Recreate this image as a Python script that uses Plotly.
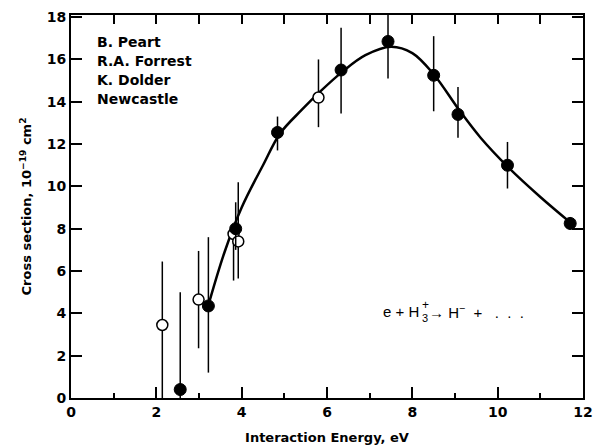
import plotly.graph_objects as go

# Filled circles (data set 1)
fx = [2.56, 3.22, 3.86, 4.84, 6.33, 7.43, 8.50, 9.07, 10.23, 11.70]
fy = [0.40, 4.35, 8.00, 12.55, 15.50, 16.85, 15.25, 13.40, 11.00, 8.25]
f_up = [4.60, 3.25, 1.25, 0.75, 2.00, 1.25, 1.85, 1.30, 1.10, 0.30]
f_dn = [0.40, 3.15, 1.00, 0.85, 2.05, 1.75, 1.70, 1.10, 1.10, 0.30]

# Open circles (data set 2)
ox = [2.14, 2.99, 3.81, 3.92, 5.80]
oy = [3.45, 4.65, 7.75, 7.40, 14.20]
o_up = [3.00, 2.30, 0.20, 2.80, 1.80]
o_dn = [3.45, 2.30, 2.20, 1.75, 1.40]

# Smooth fitted curve
cx = [3.25, 3.60, 4.00, 4.50, 4.90, 5.40, 5.85, 6.35, 6.90, 7.50, 8.00, 8.50, 9.10, 9.60, 10.25, 11.00, 11.70]
cy = [4.60, 6.90, 9.00, 11.00, 12.50, 13.60, 14.50, 15.40, 16.20, 16.60, 16.30, 15.30, 13.60, 12.30, 10.90, 9.50, 8.30]

xticks = [0, 2, 4, 6, 8, 10, 12]
yticks = [0, 2, 4, 6, 8, 10, 12, 14, 16, 18]

authors = ["B. Peart", "R.A. Forrest", "K. Dolder", "Newcastle"]

FONT = "DejaVu Sans"
RFONT = "Liberation Sans"
NB = "\u00a0"

fig = go.Figure()
fig.add_trace(go.Scatter(x=cx, y=cy, mode="lines", line=dict(color="black", width=2.5, shape="spline", smoothing=1.0),
                         hoverinfo="skip", showlegend=False))
fig.add_trace(go.Scatter(
    x=ox, y=oy, mode="markers",
    marker=dict(symbol="circle", size=11, color="white", line=dict(color="black", width=1.5)),
    error_y=dict(type="data", symmetric=False, array=o_up, arrayminus=o_dn, color="black", thickness=1.5, width=0),
    showlegend=False, cliponaxis=False))
fig.add_trace(go.Scatter(
    x=fx, y=fy, mode="markers",
    marker=dict(symbol="circle", size=12, color="black", line=dict(color="black", width=1)),
    error_y=dict(type="data", symmetric=False, array=f_up, arrayminus=f_dn, color="black", thickness=1.5, width=0),
    showlegend=False, cliponaxis=False))

# dummy trace for top axis
fig.add_trace(go.Scatter(x=[0, 12], y=[0, 0], xaxis="x2", mode="markers", marker=dict(opacity=0), hoverinfo="skip", showlegend=False))

fig.update_layout(
    width=595, height=447,
    margin=dict(l=71, r=12, t=15, b=49),
    paper_bgcolor="white", plot_bgcolor="white",
    font=dict(family=FONT, color="black"),
    xaxis=dict(range=[0, 12], tickvals=xticks, ticktext=[str(v) for v in xticks], automargin=False,
               ticks="inside", ticklen=11, tickwidth=1.5, tickcolor="black",
               minor=dict(dtick=1, ticks="inside", ticklen=5, tickwidth=1.5, tickcolor="black"),
               showline=True, linecolor="black", linewidth=2, showgrid=False, zeroline=False,
               tickfont=dict(family=FONT, size=14, color="black", weight="bold"),
               title=dict(text="<b>Interaction Energy, eV</b>", font=dict(family=FONT, size=13, color="black"), standoff=14)),
    xaxis2=dict(range=[0, 12], overlaying="x", side="top", dtick=1, ticks="inside", ticklen=9, tickwidth=1.5,
                tickcolor="black", showticklabels=False, showline=True, linecolor="black", linewidth=2,
                showgrid=False, zeroline=False, automargin=False),
    yaxis=dict(range=[0, 18.1], tickvals=yticks, ticktext=[str(v) for v in yticks], automargin=False,
               ticks="inside", ticklen=11, tickwidth=1.5, tickcolor="black", mirror="ticks",
               showline=True, linecolor="black", linewidth=2, showgrid=False, zeroline=False,
               tickfont=dict(family=FONT, size=14, color="black", weight="bold"),
               title=dict(text="<b>Cross section, 10<sup>−19</sup> cm<sup>2</sup></b>", font=dict(family=FONT, size=13, color="black"), standoff=12)),
)

# author block
for i, name in enumerate(authors):
    fig.add_annotation(xref="paper", yref="paper", x=(95 - 71) / 512, y=1 - (41.7 + 19 * i - 15) / 383,
                       text=f"<b>{name}</b>", showarrow=False, xanchor="left", yanchor="middle",
                       font=dict(family=FONT, size=14, color="black"))

# reaction label: e + H(3,+) -> H- + ...
X0 = (421 - 71) / 512
YC = 1 - (311.7 - 15) / 383
fig.add_annotation(xref="paper", yref="paper", x=X0, y=YC, text=f"e{NB}+{NB}H", showarrow=False,
                   xanchor="right", yanchor="middle", font=dict(family=RFONT, size=15, color="black"))
fig.add_annotation(xref="paper", yref="paper", x=X0 - 0.002, y=YC, yshift=7, text="+", showarrow=False,
                   xanchor="left", yanchor="middle", font=dict(family=RFONT, size=12, color="black"))
fig.add_annotation(xref="paper", yref="paper", x=X0 - 0.002, y=YC, yshift=-6, text="3", showarrow=False,
                   xanchor="left", yanchor="middle", font=dict(family=RFONT, size=11, color="black"))
fig.add_annotation(xref="paper", yref="paper", x=X0 + 0.012, y=YC,
                   text=f"→{NB}H<sup>−</sup>{NB}{NB}+{NB}{NB}{NB}.{NB}{NB}.{NB}{NB}.", showarrow=False,
                   xanchor="left", yanchor="middle", font=dict(family=RFONT, size=15, color="black"))

fig.write_html("out.html")
